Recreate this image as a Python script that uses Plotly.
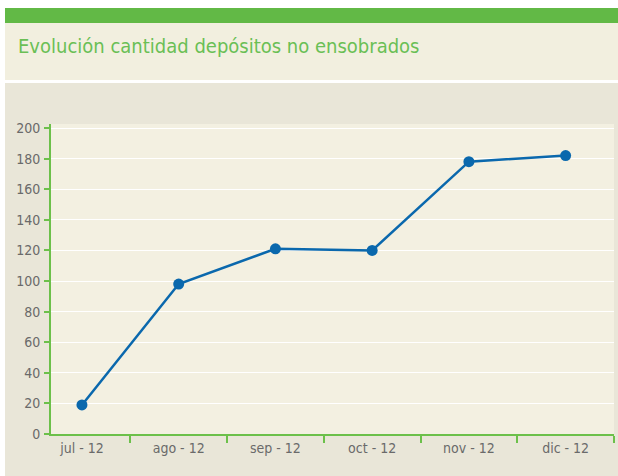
import plotly.graph_objects as go

categories = ["jul - 12", "ago - 12", "sep - 12", "oct - 12", "nov - 12", "dic - 12"]
values = [19, 98, 121, 120, 178, 182]
y_ticks = [0, 20, 40, 60, 80, 100, 120, 140, 160, 180, 200]
title = "Evolución cantidad depósitos no ensobrados"

W, H = 618, 476
L, R, T, B = 51, 4, 124, 42
PW, PH = W - L - R, H - T - B

def px(x):
    return (x - L) / PW

def py(y):
    return (H - B - y) / PH

GREEN = "#62b946"
AXGREEN = "#6cc04a"
FONT = "DejaVu Sans Condensed, sans-serif"

xs = list(range(len(categories)))

fig = go.Figure()
fig.add_trace(go.Scatter(
    x=xs, y=values, mode="lines+markers",
    line=dict(color="#0a68ad", width=2.5),
    marker=dict(color="#0a68ad", size=11),
    hoverinfo="skip", showlegend=False,
))

shapes = [
    dict(type="rect", xref="paper", yref="paper", x0=px(5), x1=px(618), y0=py(23), y1=py(8),
         fillcolor=GREEN, line_width=0, layer="below"),
    dict(type="rect", xref="paper", yref="paper", x0=px(5), x1=px(618), y0=py(80), y1=py(23),
         fillcolor="#f2efdf", line_width=0, layer="below"),
    dict(type="rect", xref="paper", yref="paper", x0=px(5), x1=px(618), y0=py(476), y1=py(83),
         fillcolor="#e9e6d8", line_width=0, layer="below"),
    dict(type="rect", xref="paper", yref="paper", x0=0, x1=1, y0=0, y1=1,
         fillcolor="#f3f0e1", line_width=0, layer="below"),
]

fig.update_layout(
    width=W, height=H,
    margin=dict(l=L, r=R, t=T, b=B),
    paper_bgcolor="white",
    plot_bgcolor="#f3f0e1",
    shapes=shapes,
    annotations=[dict(
        text=title, xref="paper", yref="paper", x=px(16), y=py(46),
        xanchor="left", yanchor="middle", showarrow=False,
        font=dict(family=FONT, size=20, color="#6abf55"),
    )],
    xaxis=dict(
        range=[-0.32, 5.5],
        tickmode="array", tickvals=xs, ticktext=categories,
        ticks="", showgrid=False, zeroline=False,
        showline=True, linecolor=AXGREEN, linewidth=2,
        tickfont=dict(family=FONT, size=14, color="#6a6a6a"),
        minor=dict(tickmode="linear", tick0=0.5, dtick=1, ticks="outside",
                   ticklen=7, tickcolor=AXGREEN, tickwidth=1.5, showgrid=False),
        fixedrange=True,
    ),
    yaxis=dict(
        range=[0, 200 * PH / 306],
        tickmode="array", tickvals=y_ticks,
        ticks="outside", ticklen=5, tickcolor=AXGREEN, tickwidth=1.5,
        showgrid=True, gridcolor="white", gridwidth=1.2,
        zeroline=False,
        showline=True, linecolor=AXGREEN, linewidth=2,
        tickfont=dict(family=FONT, size=14, color="#6a6a6a"),
        ticklabelstandoff=1,
        fixedrange=True,
    ),
)

fig.write_html("out.html", config={"displayModeBar": False},
               post_script="document.body.style.margin='0';")
